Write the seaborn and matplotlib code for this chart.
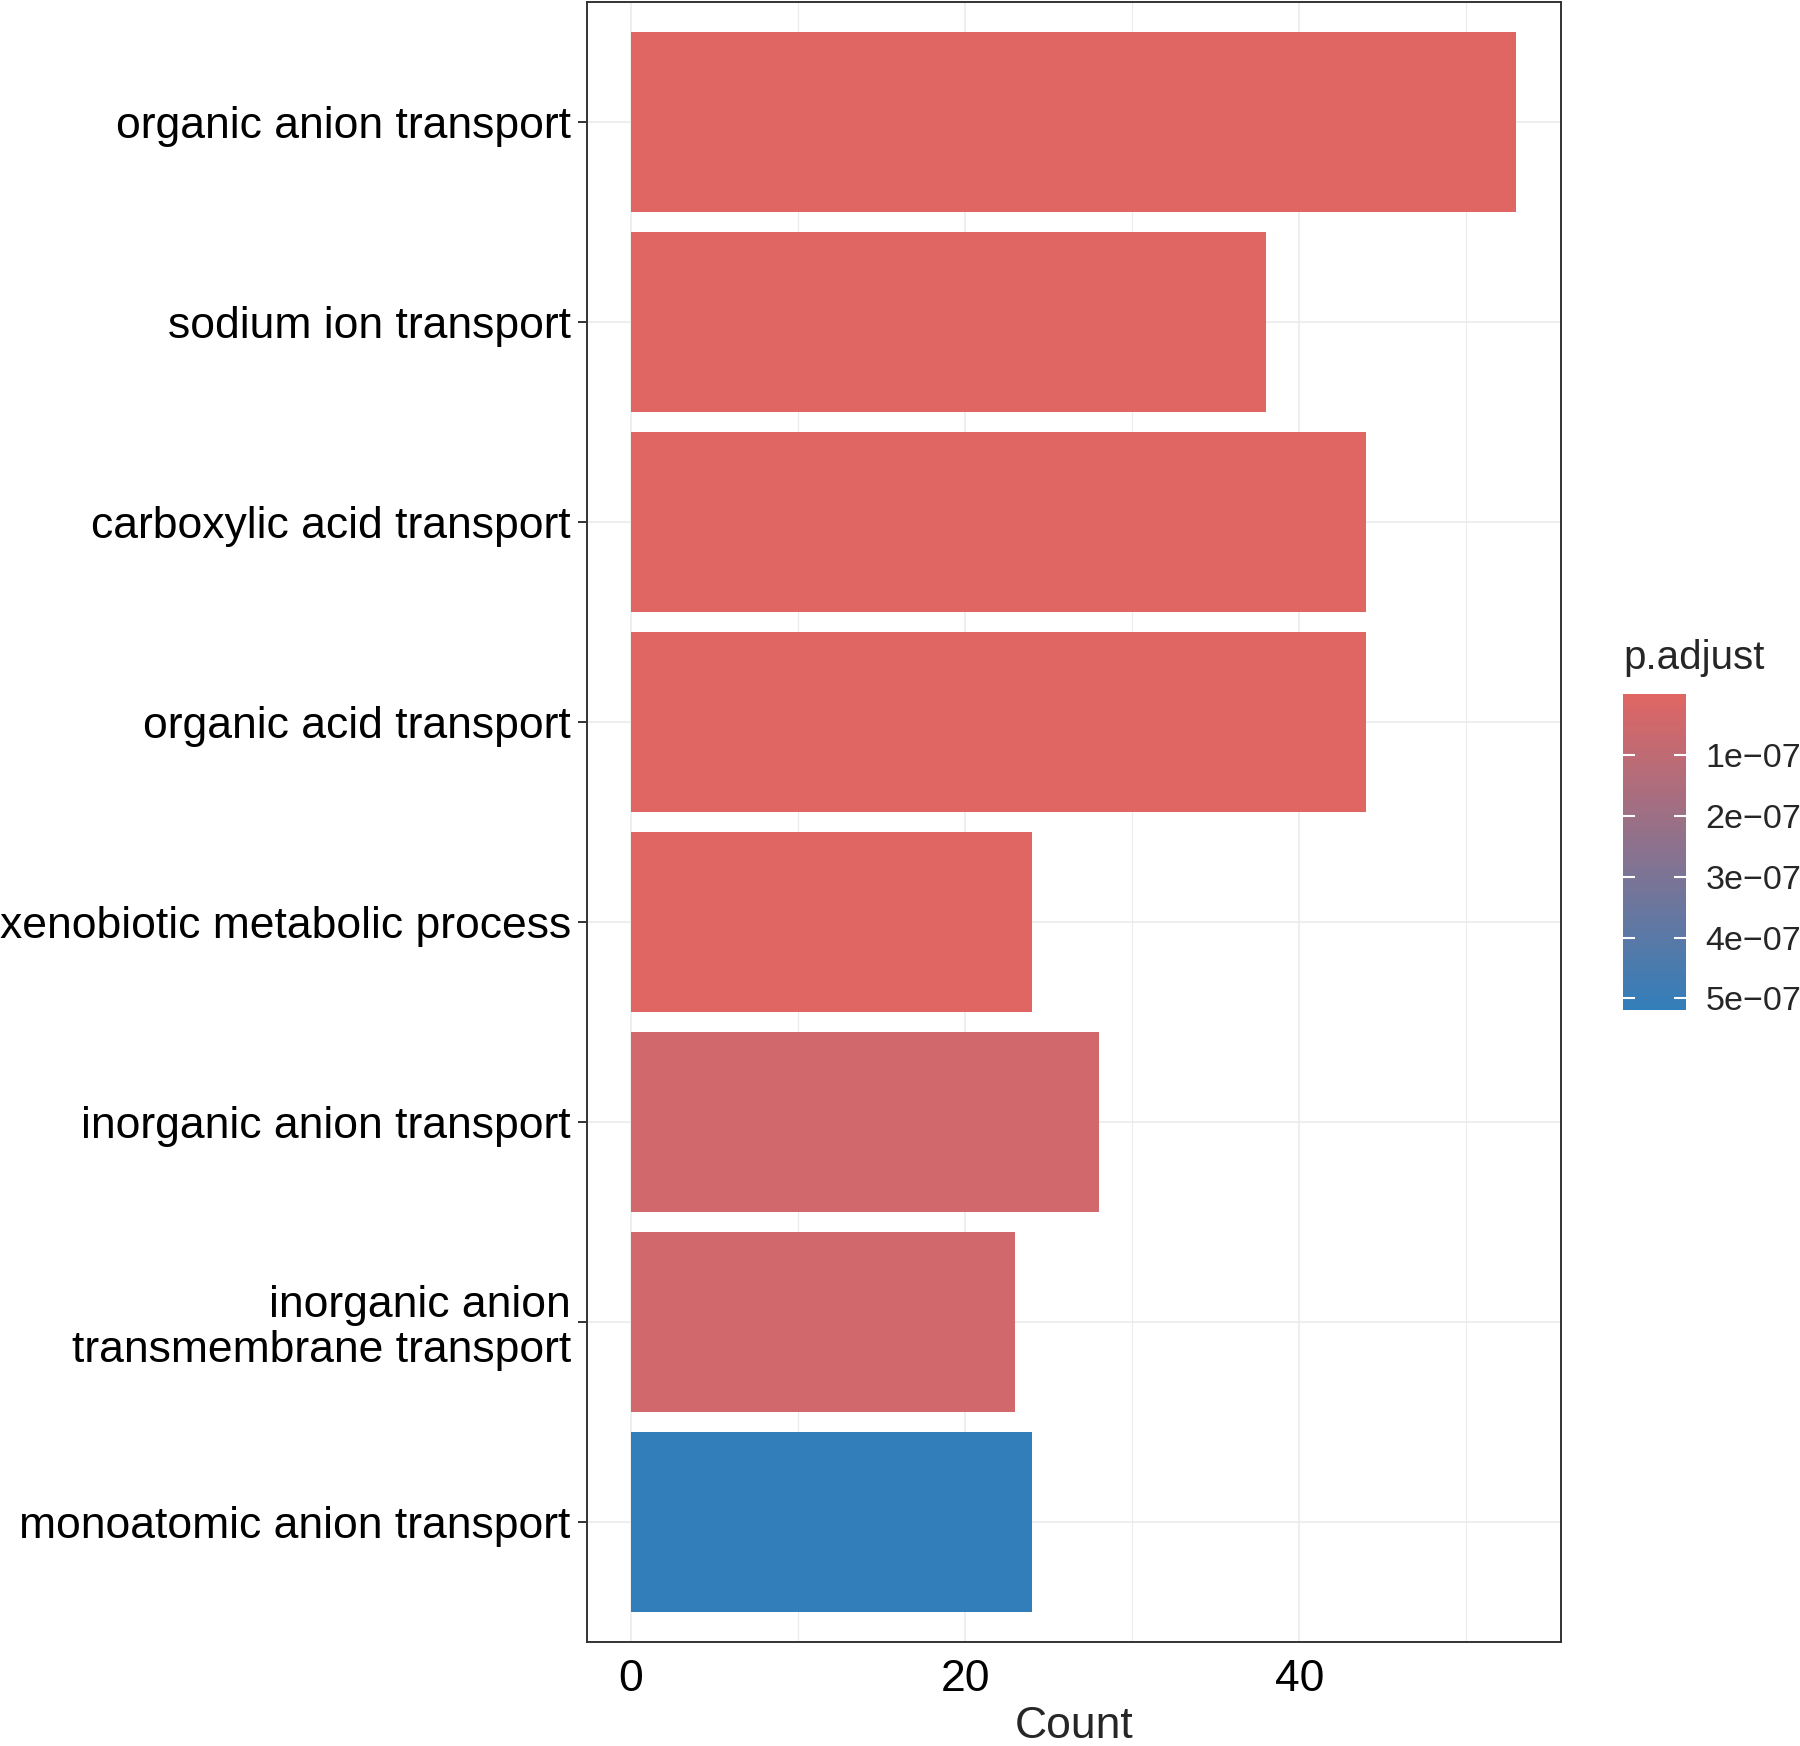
import numpy as np
import pandas as pd
import matplotlib
matplotlib.use("Agg")
import matplotlib.pyplot as plt
import seaborn as sns
from matplotlib.colors import LinearSegmentedColormap, Normalize
from matplotlib.cm import ScalarMappable
from matplotlib.ticker import MultipleLocator

# enrichment terms, top to bottom
terms = [
    "organic anion transport",
    "sodium ion transport",
    "carboxylic acid transport",
    "organic acid transport",
    "xenobiotic metabolic process",
    "inorganic anion transport",
    "inorganic anion\ntransmembrane transport",
    "monoatomic anion transport",
]
counts = [53, 38, 44, 44, 24, 28, 23, 24]
padjust = [2e-09, 2e-09, 2e-09, 2e-09, 3e-09, 4.8e-08, 4.8e-08, 5.2e-07]
cbar_ticks = [1e-07, 2e-07, 3e-07, 4e-07, 5e-07]
cbar_labels = ["1e\u221207", "2e\u221207", "3e\u221207", "4e\u221207", "5e\u221207"]

df = pd.DataFrame({"term": terms, "Count": counts, "p.adjust": padjust})

sns.set_style("white")
plt.rcParams["font.family"] = ["Liberation Sans", "DejaVu Sans"]

cmap = LinearSegmentedColormap.from_list("padj", ["#e06663", "#327eba"])
norm = Normalize(vmin=min(padjust), vmax=max(padjust))
pal = {t: cmap(norm(p)) for t, p in zip(terms, padjust)}

fig = plt.figure(figsize=(18, 17.46), dpi=100)
ax = fig.add_axes([0.326, 0.0596, 0.541, 0.9394])

sns.barplot(data=df, x="Count", y="term", hue="term", palette=pal,
            order=terms, width=0.9, legend=False, saturation=1,
            linewidth=0, ax=ax)

ax.set_xlim(-2.65, 55.65)
ax.set_ylim(7.6, -0.6)
ax.xaxis.set_major_locator(MultipleLocator(20))
ax.xaxis.set_minor_locator(MultipleLocator(10))
ax.set_axisbelow(True)
ax.grid(which="major", axis="both", color="#EBEBEB", lw=1.2)
ax.grid(which="minor", axis="x", color="#EBEBEB", lw=0.8)
for s in ax.spines.values():
    s.set_color("#333333")
    s.set_linewidth(1.4)
ax.tick_params(axis="x", which="major", length=6.5, width=1.4, color="#333333",
               labelsize=32, pad=6, labelcolor="black")
ax.tick_params(axis="x", which="minor", length=0)
ax.tick_params(axis="y", length=6.5, width=1.4, color="#333333",
               labelsize=32, pad=5, labelcolor="black", left=True)
for lab in ax.get_yticklabels():
    lab.set_horizontalalignment("right")
    lab.set_linespacing(1.12)
ax.set_xlabel("Count", fontsize=32, labelpad=4)
ax.set_ylabel("")

# colour bar legend
cax = fig.add_axes([0.9017, 0.4215, 0.035, 0.181])
sm = ScalarMappable(norm=Normalize(vmin=1e-10, vmax=5.19e-07), cmap=cmap)
cb = fig.colorbar(sm, cax=cax, ticks=cbar_ticks)
cb.ax.set_axisbelow(False)
cb.ax.invert_yaxis()
cb.ax.set_yticklabels(cbar_labels)
cb.outline.set_visible(False)
cb.ax.tick_params(which="both", direction="in", color="white", width=1.5,
                  length=8.5, left=True, right=True, labelsize=24.5, pad=14)
fig.text(0.9017, 0.617, "p.adjust", fontsize=29, ha="left", va="baseline")

fig.savefig("out.png", dpi=100)
